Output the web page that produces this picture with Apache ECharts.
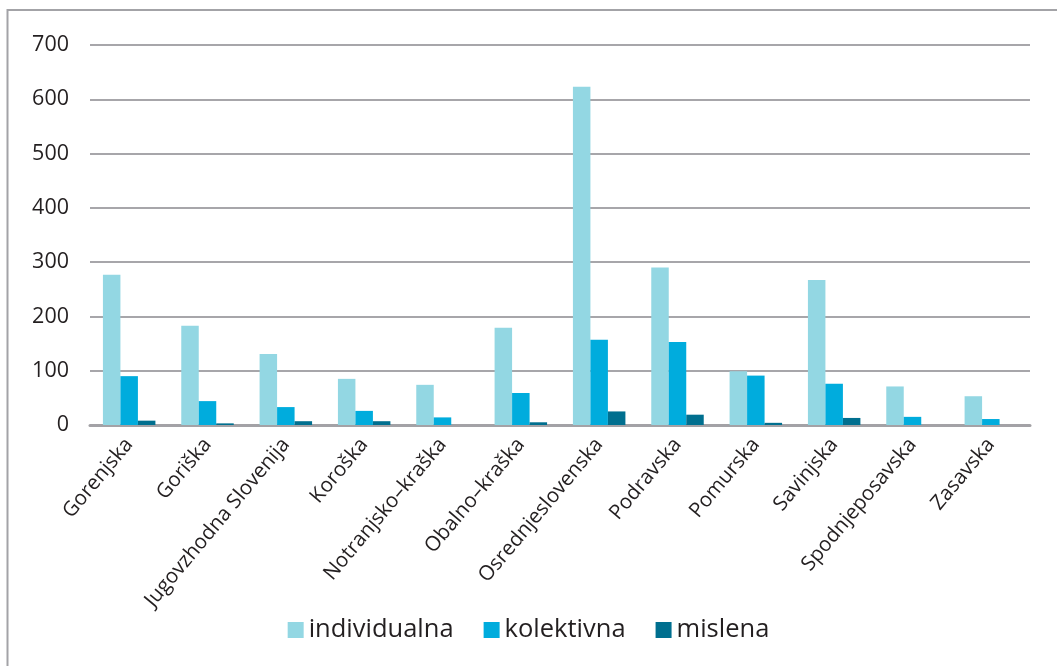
<!DOCTYPE html>
<html>
<head>
<meta charset="utf-8">
<script src="https://cdn.jsdelivr.net/npm/echarts@6/dist/echarts.min.js"></script>
<style>html,body{margin:0;padding:0;background:#fff;}#c{width:1057px;height:666px;}</style>
</head>
<body>
<div id="c"></div>
<script>
const categories = ['Gorenjska','Goriška','Jugovzhodna Slovenija','Koroška','Notranjsko–kraška','Obalno–kraška','Osrednjeslovenska','Podravska','Pomurska','Savinjska','Spodnjeposavska','Zasavska'];
const individualna = [277, 183, 131, 85, 74, 179, 623, 290, 99, 267, 71, 53];
const kolektivna = [90, 44, 33, 26, 14, 59, 157, 153, 91, 76, 15, 11];
const mislena = [8, 3, 7, 7, 0, 5, 25, 19, 4, 13, 0, 0];
const seriesNames = ['individualna', 'kolektivna', 'mislena'];
const yTicks = {min: 0, max: 700, interval: 100};

const font = '"Open Sans", "Noto Sans", sans-serif';
const colors = ['#93d7e3', '#00acdd', '#006f8f'];
const chart = echarts.init(document.getElementById('c'), null, {renderer: 'canvas'});
const mk = (name, data, i) => ({
  name, type: 'bar', data,
  barGap: '0%', barCategoryGap: '33%',
  itemStyle: {color: colors[i]},
  emphasis: {disabled: true}
});
chart.setOption({
  animation: false,
  graphic: [{
    type: 'rect', shape: {x: 7.5, y: 10, width: 1100, height: 700},
    style: {fill: 'none', stroke: '#a3a3a7', lineWidth: 2}, silent: true
  }],
  grid: {left: 90, right: 27, top: 45, bottom: 241, containLabel: false},
  legend: {
    bottom: 18, left: 'center', itemWidth: 16, itemHeight: 16, itemGap: 30,
    icon: 'rect',
    textStyle: {fontFamily: font, fontSize: 25.5, color: '#231f20', padding: [0, 0, 0, 0]},
    data: seriesNames
  },
  xAxis: {
    type: 'category', data: categories,
    axisLine: {show: true, lineStyle: {color: '#a3a2a6', width: 3}},
    axisTick: {show: false},
    axisLabel: {interval: 0, rotate: 50, fontFamily: font, fontSize: 20.5, color: '#231f20', margin: 16}
  },
  yAxis: {
    type: 'value', min: yTicks.min, max: yTicks.max, interval: yTicks.interval,
    axisLine: {show: false}, axisTick: {show: false},
    axisLabel: {fontFamily: font, fontSize: 21.5, color: '#231f20', margin: 21},
    splitLine: {lineStyle: {color: '#a7a6aa', width: 2}}
  },
  series: [mk(seriesNames[0], individualna, 0), mk(seriesNames[1], kolektivna, 1), mk(seriesNames[2], mislena, 2)]
});
</script>
</body>
</html>
